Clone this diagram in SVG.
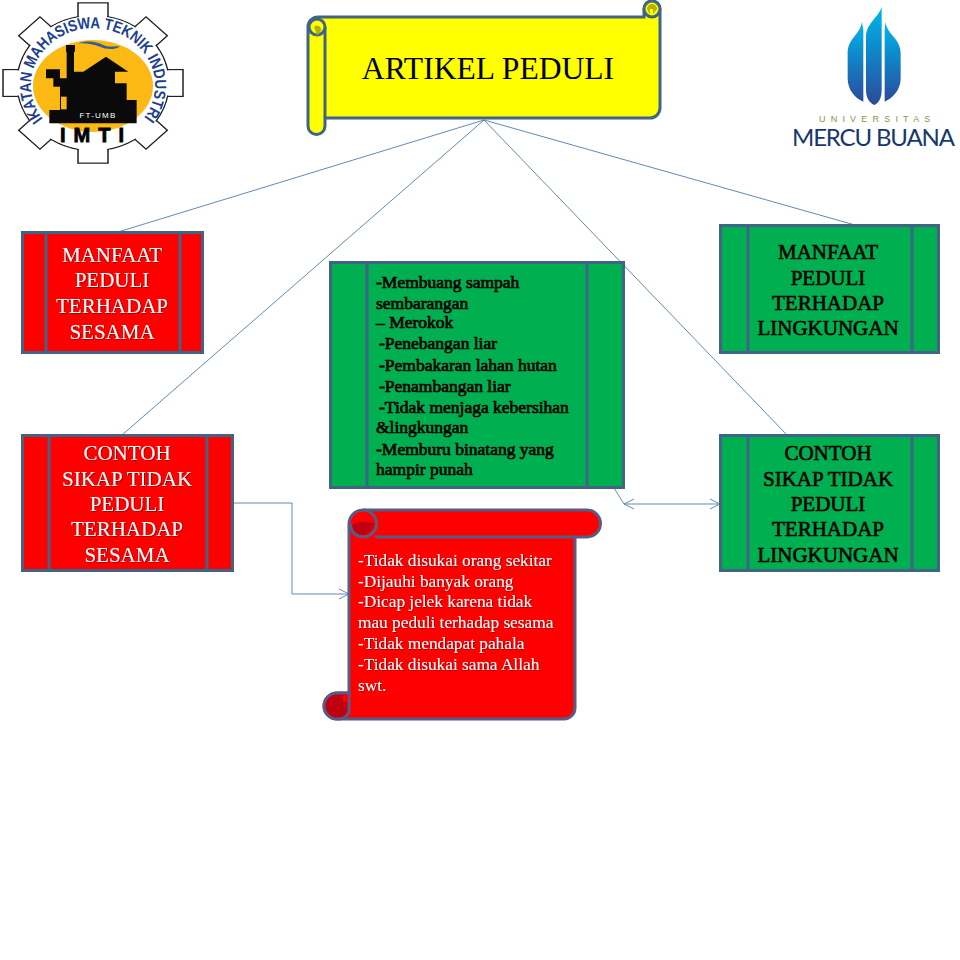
<svg xmlns="http://www.w3.org/2000/svg" width="960" height="960" viewBox="0 0 960 960">
<style>
text{font-family:"Liberation Serif","Times New Roman",serif}
.box{stroke:#3f6486;stroke-width:3}
.red{fill:#ff0000}.grn{fill:#00b050}
.div{stroke:#3f6486;stroke-width:3;fill:none}
.wt{fill:#fff;font-size:21px;text-anchor:middle;filter:url(#sh)}
.bk{fill:#000;stroke:#000;stroke-width:.6;font-size:21px;text-anchor:middle}
.bs{fill:#000;stroke:#000;stroke-width:.7;font-size:17.500px}
.ws{fill:#fff;font-size:17.300px;filter:url(#sh)}
.cn{fill:none;stroke:#5f8bb8;stroke-width:1}
.gt{fill:#fff;stroke:#222;stroke-width:1.5}
.gi{fill:#fff}
</style>
<defs>
<filter id="sh" x="-10%" y="-20%" width="120%" height="140%"><feDropShadow dx=".7" dy=".7" stdDeviation=".4" flood-color="#600" flood-opacity=".8"/></filter>
<marker id="ah" viewBox="0 0 12 12" refX="11" refY="6" markerWidth="12" markerHeight="12" markerUnits="userSpaceOnUse" orient="auto-start-reverse"><path d="M1 1L11 6L1 11" fill="none" stroke="#5f8bb8"/></marker>
<linearGradient id="fl" x1="0" y1="0" x2="0" y2="1"><stop offset="0" stop-color="#00b7ec"/><stop offset=".45" stop-color="#0f86c8"/><stop offset="1" stop-color="#2b4b9b"/></linearGradient>
<path id="ring" d="M43 119A62 57 0 1 1 143 119"/>
</defs>
<rect width="960" height="960" fill="#fff"/>

<g id="connectors">
<path class="cn" d="M484 120L118 232"/>
<path class="cn" d="M484 120L122 435"/>
<path class="cn" d="M484 120L855 225"/>
<path class="cn" d="M484 120L787 435"/>
<path class="cn" d="M614 488L624 504"/>
<path class="cn" d="M624 504H720" marker-start="url(#ah)" marker-end="url(#ah)"/>
<path class="cn" d="M233 503H292V594H349" marker-end="url(#ah)"/>
</g>

<g id="logo-imti">
<g transform="translate(93 83) scale(1 .89)">
<g class="gt">
<rect x="-15" y="-90" width="30" height="40"/><rect x="-15" y="-90" width="30" height="40" transform="rotate(45)"/><rect x="-15" y="-90" width="30" height="40" transform="rotate(90)"/><rect x="-15" y="-90" width="30" height="40" transform="rotate(135)"/><rect x="-15" y="-90" width="30" height="40" transform="rotate(180)"/><rect x="-15" y="-90" width="30" height="40" transform="rotate(225)"/><rect x="-15" y="-90" width="30" height="40" transform="rotate(270)"/><rect x="-15" y="-90" width="30" height="40" transform="rotate(315)"/>
<circle r="76"/>
</g>
<g class="gi">
<rect x="-14" y="-89" width="28" height="40"/><rect x="-14" y="-89" width="28" height="40" transform="rotate(45)"/><rect x="-14" y="-89" width="28" height="40" transform="rotate(90)"/><rect x="-14" y="-89" width="28" height="40" transform="rotate(135)"/><rect x="-14" y="-89" width="28" height="40" transform="rotate(180)"/><rect x="-14" y="-89" width="28" height="40" transform="rotate(225)"/><rect x="-14" y="-89" width="28" height="40" transform="rotate(270)"/><rect x="-14" y="-89" width="28" height="40" transform="rotate(315)"/>
<circle r="75"/>
</g>
</g>
<ellipse cx="93" cy="86" rx="60" ry="46" fill="#fdb913"/>
<g transform="scale(.3333)">
<path d="M148 370V330H180V260H160V235H138V208H180V235H200V155H198V135H225V155H222V215L250 215L318 170L385 215H345V250H380V300H410V370Z" fill="#0a0a0a"/>
<rect x="183" y="290" width="17" height="38" fill="#fdb913"/>
<path d="M235 130C260 120 290 125 310 135C330 145 345 135 360 140C340 150 320 148 300 140C280 132 255 128 235 130Z" fill="#2f5f96"/>
</g>
<text x="98" y="118" text-anchor="middle" font-size="8" letter-spacing="1.2" fill="#fff" style="font-family:'Liberation Sans',sans-serif">FT-UMB</text>
<text x="60" y="142" font-size="20" font-weight="700" letter-spacing="8" stroke="#000" stroke-width=".8" fill="#000" style="font-family:'Liberation Sans',sans-serif">IMTI</text>
<text font-size="16" font-weight="700" fill="#1d3f8f" style="font-family:'Liberation Sans',sans-serif"><textPath href="#ring" textLength="258" lengthAdjust="spacingAndGlyphs">IKATAN MAHASISWA TEKNIK INDUSTRI</textPath></text>
</g>

<g id="logo-mercu-buana">
<g transform="translate(780 0) scale(.3333)" fill="url(#fl)">
<path d="M246 65C240 105 203 115 203 160V235C203 270 225 295 250 305V90Z"/>
<path d="M305 20C298 50 258 70 258 110V270C258 295 270 310 283 315C296 310 305 295 305 270Z"/>
<path d="M316 65C322 105 362 115 362 160V235C362 270 338 295 314 305V90Z"/>
</g>
<text x="819" y="122" font-size="9" letter-spacing="5.200" fill="#7f9a3a" style="font-family:'Liberation Sans',sans-serif">UNIVERSITAS</text>
<text x="792" y="146" font-size="24" fill="#17376f" textLength="163" lengthAdjust="spacing" style="font-family:Lato,sans-serif">MERCU BUANA</text>
</g>

<g id="title-scroll">
<path d="M325 17H644V9A8 8 0 0 1 660 9V108A10 10 0 0 1 650 118H325V126A8.500 8.500 0 0 1 308 126V27A10 10 0 0 1 318 17Z" fill="#ffff00" class="box"/>
<path d="M325 27V118" class="div"/>
<path d="M325 27A8 8 0 0 0 309 27A8 8 0 0 0 325 27Z" fill="#ffff00" class="box"/>
<path d="M313 35A6 6 0 0 0 321 30A4 4 0 0 0 314 27L317 35Z" fill="#b3b300"/>
<path d="M644 9A8 8 0 0 1 660 9A8 8 0 0 1 644 9Z" fill="#ffff00" class="box"/>
<path d="M647 9A5 5 0 0 1 657 9L653 14V9H650V15Z" fill="#b3b300"/>
<text x="488" y="79" font-size="31.600" text-anchor="middle" fill="#000">ARTIKEL PEDULI</text>
</g>

<g id="red-manfaat">
<rect class="box red" x="22.500" y="232.500" width="180" height="120"/>
<path class="div" d="M46 232V353M180 232V353"/>
<text class="wt"><tspan x="112" y="262">MANFAAT</tspan><tspan x="112" y="287">PEDULI</tspan><tspan x="112" y="313">TERHADAP</tspan><tspan x="112" y="339">SESAMA</tspan></text>
</g>

<g id="red-contoh">
<rect class="box red" x="22.500" y="435.500" width="210" height="135"/>
<path class="div" d="M49 435V571M207 435V571"/>
<text class="wt"><tspan x="127" y="460">CONTOH</tspan><tspan x="127" y="486">SIKAP TIDAK</tspan><tspan x="127" y="511">PEDULI</tspan><tspan x="127" y="536">TERHADAP</tspan><tspan x="127" y="562">SESAMA</tspan></text>
</g>

<g id="green-list">
<rect class="box grn" x="330.500" y="262.500" width="293" height="225"/>
<path class="div" d="M367 262V488M587 262V488"/>
<text class="bs"><tspan x="376" y="288">-Membuang sampah</tspan><tspan x="376" y="309">sembarangan</tspan><tspan x="376" y="328">– Merokok</tspan><tspan x="379" y="349">-Penebangan liar</tspan><tspan x="379" y="371">-Pembakaran lahan hutan</tspan><tspan x="379" y="392">-Penambangan liar</tspan><tspan x="379" y="413">-Tidak menjaga kebersihan</tspan><tspan x="376" y="433">&amp;lingkungan</tspan><tspan x="376" y="455">-Memburu binatang yang</tspan><tspan x="376" y="475">hampir punah</tspan></text>
</g>

<g id="green-manfaat">
<rect class="box grn" x="720.500" y="225.500" width="218" height="127"/>
<path class="div" d="M748 225V353M912 225V353"/>
<text class="bk"><tspan x="828" y="259">MANFAAT</tspan><tspan x="828" y="285">PEDULI</tspan><tspan x="828" y="310">TERHADAP</tspan><tspan x="828" y="335">LINGKUNGAN</tspan></text>
</g>

<g id="green-contoh">
<rect class="box grn" x="720.500" y="435.500" width="218" height="135"/>
<path class="div" d="M748 435V571M912 435V571"/>
<text class="bk"><tspan x="828" y="460">CONTOH</tspan><tspan x="828" y="486">SIKAP TIDAK</tspan><tspan x="828" y="511">PEDULI</tspan><tspan x="828" y="536">TERHADAP</tspan><tspan x="828" y="562">LINGKUNGAN</tspan></text>
</g>

<g id="red-scroll">
<path class="box" style="stroke:#565c85" fill="#ff0000" d="M349 524A14 14 0 0 1 363 510H587A13.500 13.500 0 0 1 587 537H575V708A11 11 0 0 1 564 719H337A13 13 0 0 1 337 693H349Z"/>
<path d="M375 537H575" fill="none" stroke="#565c85" stroke-width="3"/>
<path d="M363 510A13.500 13.500 0 0 1 363 537A12 12 0 0 1 351 524" fill="none" stroke="#565c85" stroke-width="3"/>
<path d="M352 525C358 521 366 522 374 523A12 12 0 0 1 364 535A11 11 0 0 1 352 525Z" fill="#c00010"/>
<path d="M349 693V712A12 12 0 0 1 337 719A13 13 0 0 1 337 693Z" fill="#c00010" stroke="#565c85" stroke-width="3"/>
<path d="M343 702H348V695H343Z" fill="#ff0000"/>
<text class="ws"><tspan x="358" y="566">-Tidak disukai orang sekitar</tspan><tspan x="358" y="587">-Dijauhi banyak orang</tspan><tspan x="358" y="607">-Dicap jelek karena tidak</tspan><tspan x="358" y="628">mau peduli terhadap sesama</tspan><tspan x="358" y="649">-Tidak mendapat pahala</tspan><tspan x="358" y="670">-Tidak disukai sama Allah</tspan><tspan x="358" y="691">swt.</tspan></text>
</g>
</svg>
